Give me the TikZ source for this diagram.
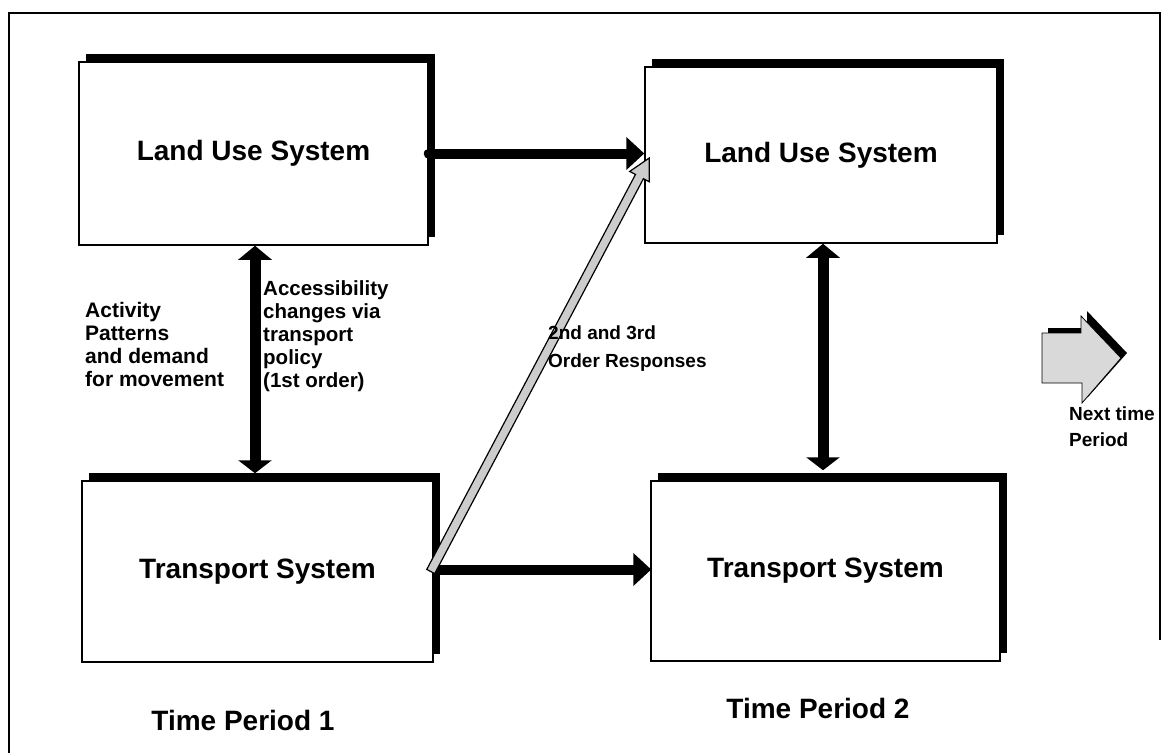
\documentclass[tikz,border=0pt]{standalone}
\usepackage{fontspec}
\setmainfont{Liberation Sans}
\usetikzlibrary{arrows.meta,shadows,calc}
\begin{document}
\begin{tikzpicture}[x=1pt,y=-1pt,
  sysbox/.style={draw=black, line width=1.5pt, fill=white, inner sep=0pt,
    font=\fontsize{28}{32}\selectfont\bfseries,
    drop shadow={shadow xshift=7pt, shadow yshift=8pt, fill=black, draw=none, opacity=1}},
  lbl/.style={align=left, inner sep=0pt, anchor=west},
  period/.style={inner sep=0pt, font=\fontsize{28}{32}\selectfont\bfseries},
  flowarrow/.style={line width=10pt, draw=black, -{Triangle[length=18pt,width=32pt]}},
  dblarrow/.style={line width=11pt, draw=black, {Triangle[length=14pt,width=33pt]}-{Triangle[length=13pt,width=33pt]}},
  grayarrow/.style={fill=gray!40, draw=black, line width=1.2pt, line join=miter}
]
\useasboundingbox (0,0) rectangle (1164,753);
\fill[white] (0,0) rectangle (1164,753);
% frame
\draw[line width=1.8pt] (9,753) -- (9,13) -- (1160,13) -- (1160,640);

% boxes
\node[sysbox, minimum width=349pt, minimum height=183pt] (lu1) at (253.5,153.5) {Land Use System};
\node[sysbox, minimum width=351pt, minimum height=181pt] (ts1) at (257.5,571.5) {\raisebox{4pt}{Transport System}};
\node[sysbox, minimum width=352pt, minimum height=176pt] (lu2) at (821,155) {\raisebox{4pt}{Land Use System}};
\node[sysbox, minimum width=349pt, minimum height=180pt] (ts2) at (825.5,571) {\raisebox{5pt}{Transport System}};

% horizontal arrows
\draw[flowarrow, line cap=round] (lu1.east) -- (lu1.east -| lu2.west);
\draw[flowarrow] ($(ts1.east)+(0,-2)$) -- ($(ts1.east -| ts2.west)+(1,-2)$);

% vertical double arrows
\draw[dblarrow] ($(lu1.south)+(1.5,0)$) -- ($(lu1.south |- ts1.north)+(1.5,-7)$);
\draw[dblarrow] ($(lu2.south)+(2,0)$) -- ($(lu2.south |- ts2.north)+(2,-10)$);

% diagonal gray arrow
\coordinate (dt) at ($(ts1.east)+(-3,0)$);
\coordinate (dp) at ($(lu2.west)+(5,3)$);
\coordinate (dh) at ($(dp)!21pt!(dt)$);
\filldraw[grayarrow]
  ($(dt)!4.5pt!90:(dp)$) -- ($(dh)!4.5pt!90:(dp)$) -- ($(dh)!11pt!90:(dp)$) -- (dp)
  -- ($(dh)!11pt!-90:(dp)$) -- ($(dh)!4.5pt!-90:(dp)$) -- ($(dt)!4.5pt!-90:(dp)$) -- cycle;

% next time period arrow (shape)
\fill[black] (1048,328) -- (1087,328) -- (1087,311) -- (1127,353) -- (1088,397) -- (1088,377) -- (1048,377) -- cycle;
\filldraw[fill=gray!30, draw=black, line width=0.8pt, line join=miter]
  (1042,333) -- (1081,333) -- (1081,316) -- (1121,358) -- (1082,403) -- (1082,383) -- (1042,383) -- cycle;

% labels
\node[lbl, font=\fontsize{21}{23}\selectfont\bfseries] (act) at (85,344)
  {Activity\\Patterns\\and demand\\for movement};
\node[lbl, font=\fontsize{20.5}{23}\selectfont\bfseries] (acc) at (263,336)
  {Accessibility\\changes via\\transport\\policy\\(1st order)};
\node[lbl, font=\fontsize{19}{28}\selectfont\bfseries] (ord) at (548,349)
  {2nd and 3rd\\Order Responses};
\node[lbl, font=\fontsize{19}{26}\selectfont\bfseries] (nxt) at (1069,427)
  {Next time\\Period};
\node[period] (tp1) at (243,720) {Time Period 1};
\node[period] (tp2) at (818,708) {Time Period 2};
\end{tikzpicture}
\end{document}
